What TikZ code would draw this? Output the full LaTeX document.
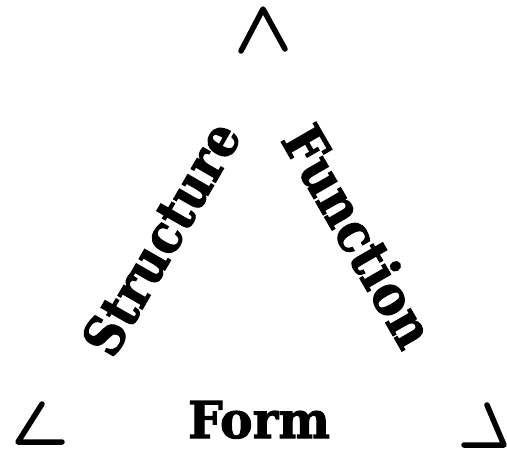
\documentclass[tikz,border=0pt]{standalone}
\usepackage{fontspec}
\usepackage{graphicx}
\setmainfont{DejaVu Serif}
\newfontfamily\heavyfont{DejaVu Serif}[BoldFeatures={FakeBold=2}]
\tikzset{
  cornerstroke/.style={line width=5.5pt, line cap=round, line join=round},
  word/.style={inner sep=0pt, outer sep=0pt, font=\heavyfont\bfseries},
}
\begin{document}
\begin{tikzpicture}[x=1pt,y=-1pt]
\useasboundingbox (0,0) rectangle (507,453);
% corner marks
\draw[cornerstroke] (241,51) -- (263,9) -- (285,49);
\draw[cornerstroke] (42,404) -- (18,442) -- (62,442);
\draw[cornerstroke] (487,405) -- (504,445) -- (464,445);
% words
\node[word, anchor=base west, rotate=60] (structure) at (113,360)
  {\resizebox{259pt}{40pt}{Structure}};
\node[word, anchor=base west, rotate=-60] (function) at (280,140)
  {\resizebox{245pt}{42pt}{Function}};
\node[word, anchor=base west] (form) at (188,438)
  {\resizebox{142pt}{37pt}{Form}};
\end{tikzpicture}
\end{document}
